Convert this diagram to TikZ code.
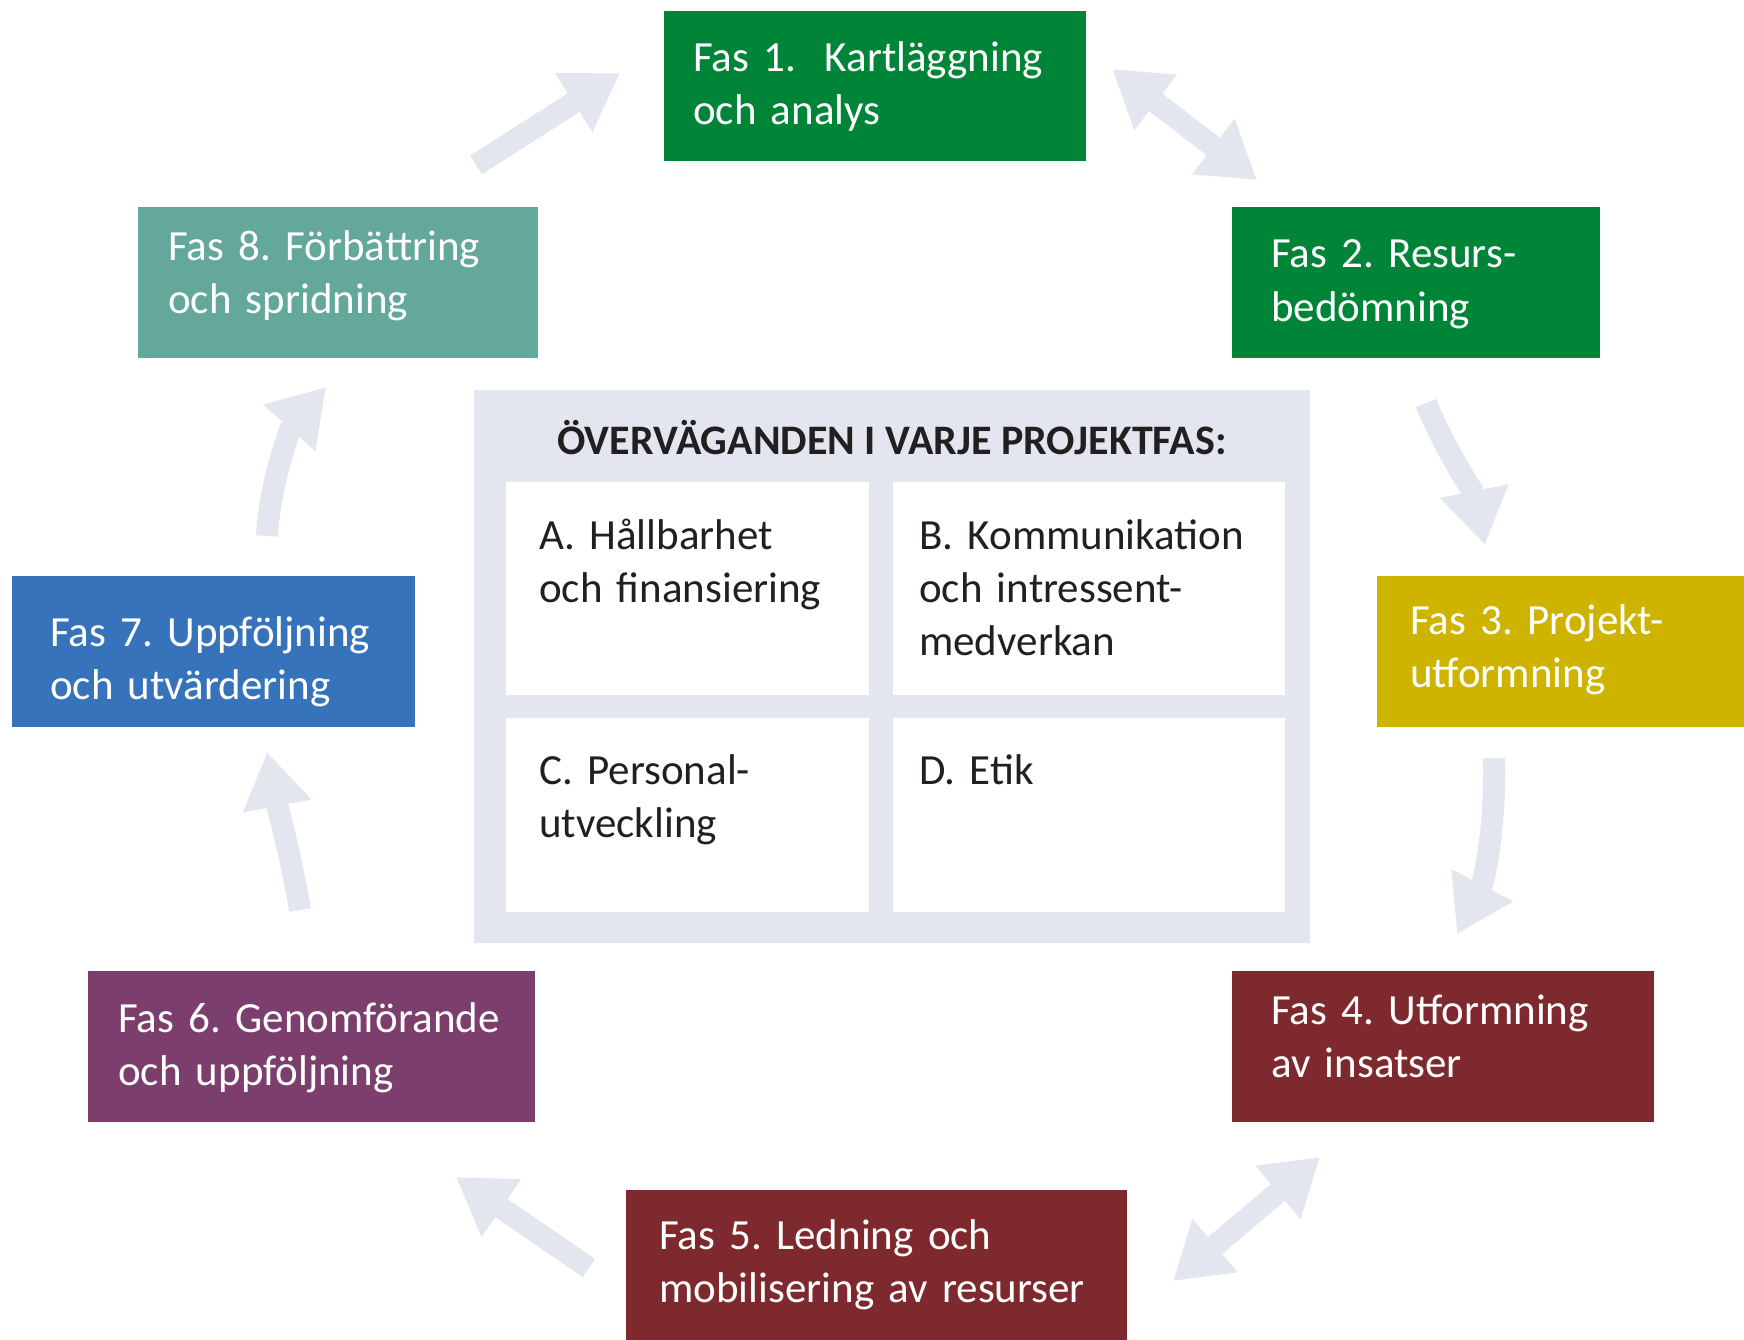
\documentclass[tikz,border=0pt]{standalone}
\usepackage{fontspec}
\setmainfont{Carlito}
\usetikzlibrary{arrows.meta,calc}
\definecolor{cgreen}{RGB}{0,133,56}
\definecolor{cyellow}{RGB}{206,180,0}
\definecolor{cred}{RGB}{126,41,45}
\definecolor{cpurple}{RGB}{124,63,109}
\definecolor{cblue}{RGB}{55,115,186}
\definecolor{cteal}{RGB}{99,168,154}
\definecolor{cgray}{RGB}{227,230,239}
\definecolor{ctext}{RGB}{35,31,32}
\frenchspacing
\begin{document}
\begin{tikzpicture}[x=1pt,y=-1pt,
  phasebox/.style={rectangle, inner sep=0pt, outer sep=0pt, anchor=north west, draw=none},
  phasetext/.style={anchor=base west, inner sep=0pt, text=white, align=left, text width=470pt, font=\fontsize{43}{53}\selectfont},
  cellbox/.style={rectangle, fill=white, inner sep=0pt, outer sep=0pt, anchor=north west},
  celltext/.style={anchor=base west, inner sep=0pt, text=ctext, align=left, text width=370pt, font=\fontsize{43}{53}\selectfont},
  flow/.style={draw=cgray, line width=22pt, -{Triangle[length=55pt,width=66pt]}},
  flowtwo/.style={draw=cgray, line width=22pt, {Triangle[length=55pt,width=66pt]}-{Triangle[length=55pt,width=66pt]}},
]
\useasboundingbox (0,0) rectangle (1744,1340);

% phase boxes
\node[phasebox, fill=cgreen,   minimum width=422pt, minimum height=150pt] (f1) at (664,11) {};
\node[phasebox, fill=cgreen,   minimum width=368pt, minimum height=151pt] (f2) at (1232,207) {};
\node[phasebox, fill=cyellow,  minimum width=367pt, minimum height=151pt] (f3) at (1377,576) {};
\node[phasebox, fill=cred,     minimum width=422pt, minimum height=151pt] (f4) at (1232,971) {};
\node[phasebox, fill=cred,     minimum width=501pt, minimum height=150pt] (f5) at (626,1190) {};
\node[phasebox, fill=cpurple,  minimum width=447pt, minimum height=151pt] (f6) at (88,971) {};
\node[phasebox, fill=cblue,    minimum width=403pt, minimum height=151pt] (f7) at (12,576) {};
\node[phasebox, fill=cteal,    minimum width=400pt, minimum height=151pt] (f8) at (138,207) {};

\node[phasetext] (t1) at ($(f1.north west)+(29,61)$) {Fas 1.~ Kartläggning\\och analys};
\node[phasetext] (t2) at ($(f2.north west)+(39,61)$) {Fas 2. Resurs-\\bedömning};
\node[phasetext] (t3) at ($(f3.north west)+(33,58)$) {Fas 3. Projekt-\\utformning};
\node[phasetext] (t4) at ($(f4.north west)+(39,53)$) {Fas 4. Utformning\\av insatser};
\node[phasetext] (t5) at ($(f5.north west)+(33,59)$) {Fas 5. Ledning och\\mobilisering av resurser};
\node[phasetext] (t6) at ($(f6.north west)+(30,61)$) {Fas 6. Genomförande\\och uppföljning};
\node[phasetext] (t7) at ($(f7.north west)+(38,70)$) {Fas 7. Uppföljning\\och utvärdering};
\node[phasetext] (t8) at ($(f8.north west)+(30,54)$) {Fas 8. Förbättring\\och spridning};

% central panel
\node[cellbox, fill=cgray, minimum width=836pt, minimum height=553pt] (panel) at (474,390) {};
\node[anchor=base, inner sep=0pt, text=ctext, font=\fontsize{42}{46}\selectfont\bfseries] (title) at (892,454) {ÖVERVÄGANDEN I VARJE PROJEKTFAS:};
\node[cellbox, minimum width=363pt, minimum height=213pt] (ca) at (506,482) {};
\node[cellbox, minimum width=392pt, minimum height=213pt] (cb) at (893,482) {};
\node[cellbox, minimum width=363pt, minimum height=194pt] (cc) at (506,718) {};
\node[cellbox, minimum width=392pt, minimum height=194pt] (cd) at (893,718) {};
\node[celltext] (ta) at ($(ca.north west)+(33,67)$) {A. Hållbarhet\\och finansiering};
\node[celltext] (tb) at ($(cb.north west)+(26,67)$) {B. Kommunikation\\och intressent-\\medverkan};
\node[celltext] (tc) at ($(cc.north west)+(33,66)$) {C. Personal-\\utveckling};
\node[celltext] (td) at ($(cd.north west)+(26,66)$) {D. Etik};

% arrow end points
\coordinate (a1s) at (476,165);  \coordinate (a1e) at (620,73);
\coordinate (a2s) at (1112,69);  \coordinate (a2e) at (1257,180);
\coordinate (a3s) at (1426,403); \coordinate (a3e) at (1485,545);
\coordinate (a4s) at (1494,758); \coordinate (a4e) at (1457,934);
\coordinate (a5s) at (1320,1157);\coordinate (a5e) at (1173,1281);
\coordinate (a6s) at (589,1268); \coordinate (a6e) at (456,1177);
\coordinate (a7s) at (300,910);  \coordinate (a7e) at (267,752);
\coordinate (a8s) at (267,536);  \coordinate (a8e) at (326,387);

\draw[flow] (a1s) -- (a1e);
\draw[flowtwo] (a2s) -- (a2e);
\draw[flow] (a3s) .. controls (1445,450) and (1475,495) .. (a3e);
\draw[flow] (a4s) .. controls (1496,820) and (1485,880) .. (a4e);
\draw[flowtwo] (a5s) -- (a5e);
\draw[flow] (a6s) -- (a6e);
\draw[flow] (a7s) .. controls (292,860) and (278,810) .. (a7e);
\draw[flow] (a8s) .. controls (270,480) and (292,425) .. (a8e);
\end{tikzpicture}
\end{document}
